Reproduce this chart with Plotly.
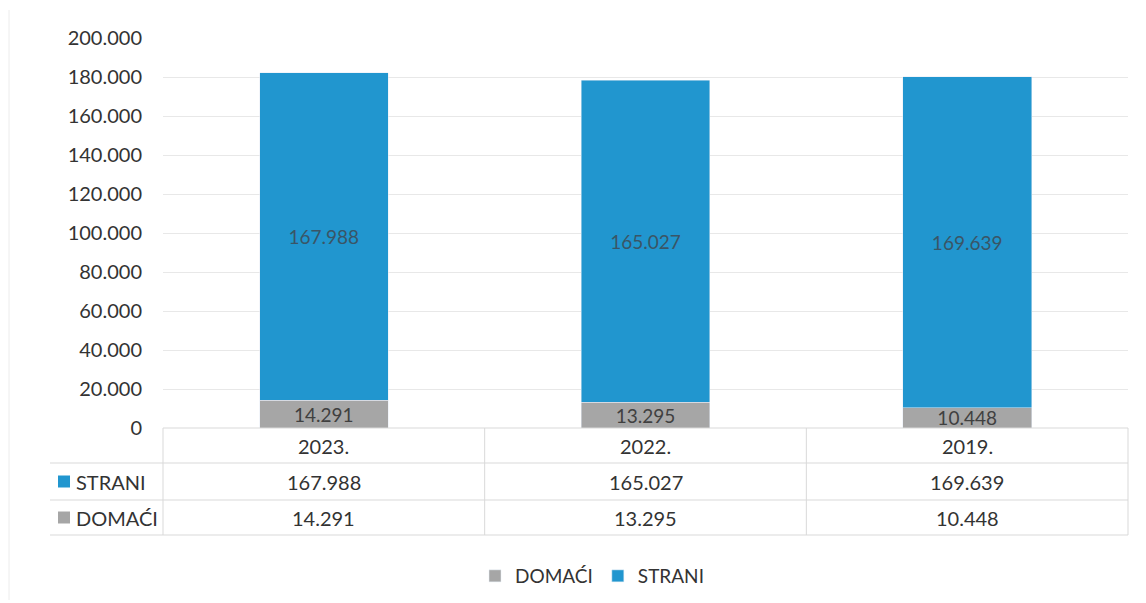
import plotly.graph_objects as go

years = ["2023.", "2022.", "2019."]
domaci = [14291, 13295, 10448]
strani = [167988, 165027, 169639]
series_names = ["DOMAĆI", "STRANI"]
colors = {"DOMAĆI": "#a6a6a6", "STRANI": "#2196cf"}
y_ticks = [0, 20000, 40000, 60000, 80000, 100000, 120000, 140000, 160000, 180000, 200000]

FONT = "Lato, Open Sans, sans-serif"
TXT = "#333333"
OFF = 8  # page body offset

def fmt(v):
    return f"{v:,}".replace(",", ".")

fig = go.Figure()
fig.add_trace(go.Bar(
    x=years, y=domaci, name="DOMAĆI", marker_color=colors["DOMAĆI"],
    text=[fmt(v) for v in domaci], textposition="inside", insidetextanchor="middle",
    textfont=dict(color="#404040", size=19, family=FONT),
))
fig.add_trace(go.Bar(
    x=years, y=strani, name="STRANI", marker_color=colors["STRANI"],
    text=[fmt(v) for v in strani], textposition="inside", insidetextanchor="middle",
    textfont=dict(color="#3a5566", size=19, family=FONT),
))

# Target screen pixels -> figure coords
L, R, T, Bt = 163 - OFF, 1128 - OFF, 38 - OFF, 428 - OFF
W = R - L
H = Bt - T
def py(p):
    return (428 - p) / H
def px(p):
    return (p - 163) / W
row_lines = [py(463), py(500), py(535)]
label_left = px(50)

shapes = []
line_style = dict(color="#d9d9d9", width=1)
shapes.append(dict(type="line", xref="paper", yref="paper", x0=0, x1=1, y0=0, y1=0, line=line_style))
for yy in row_lines:
    shapes.append(dict(type="line", xref="paper", yref="paper", x0=label_left, x1=1, y0=yy, y1=yy, line=line_style))
n = len(years)
for i in range(n + 1):
    shapes.append(dict(type="line", xref="paper", yref="paper", x0=i / n, x1=i / n, y0=0, y1=row_lines[-1], line=line_style))
# faint chart-area border on the left
shapes.append(dict(type="line", xref="paper", yref="paper", x0=px(9), x1=px(9), y0=py(600), y1=py(10),
                   line=dict(color="#ececec", width=1)))

annotations = []
header_y = (0 + row_lines[0]) / 2
r1 = (row_lines[0] + row_lines[1]) / 2
r2 = (row_lines[1] + row_lines[2]) / 2
for i, yr in enumerate(years):
    xc = (i + 0.5) / n
    for val, yy in [(yr, header_y), (fmt(strani[i]), r1), (fmt(domaci[i]), r2)]:
        annotations.append(dict(x=xc, y=yy, xref="paper", yref="paper", text=val, showarrow=False,
                                xanchor="center", yanchor="middle",
                                font=dict(size=20, color=TXT, family=FONT)))
for name, yy in [("STRANI", r1), ("DOMAĆI", r2)]:
    shapes.append(dict(type="rect", xref="paper", yref="paper", x0=px(58), x1=px(70),
                       y0=yy - 6 / H, y1=yy + 6 / H, fillcolor=colors[name], line=dict(width=0)))
    annotations.append(dict(x=px(74), y=yy, xref="paper", yref="paper", xanchor="left", yanchor="middle",
                            text=name, showarrow=False,
                            font=dict(size=20, color=TXT, family=FONT)))

fig.update_layout(
    barmode="stack",
    bargap=0.6,
    width=1146, height=603,
    margin=dict(l=L, r=1146 - R, t=T, b=603 - Bt, autoexpand=False),
    paper_bgcolor="white", plot_bgcolor="white",
    separators=",.",
    font=dict(family=FONT, color=TXT, size=19),
    uniformtext=dict(minsize=19, mode="show"),
    shapes=shapes,
    annotations=annotations,
    legend=dict(orientation="h", x=px(592), xanchor="center", y=py(576), yanchor="middle",
                font=dict(size=19, color=TXT, family=FONT), traceorder="normal",
                itemwidth=30),
    xaxis=dict(showticklabels=False, showgrid=False, zeroline=False, showline=False),
    yaxis=dict(range=[0, 200000], tickvals=y_ticks, tickformat=",", gridcolor="#e8e8e8",
               zeroline=False, showline=False, ticks="", ticklabelstandoff=20,
               tickfont=dict(size=20, color=TXT, family=FONT)),
)

fig.write_html("out.html")
